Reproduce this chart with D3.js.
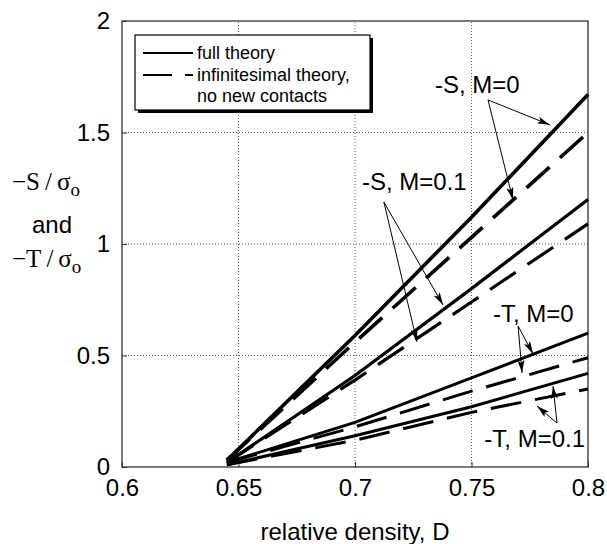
<!DOCTYPE html>
<html>
<head>
<meta charset="utf-8">
<script src="https://cdn.jsdelivr.net/npm/d3@7"></script>
<style>
  body { margin: 0; background: #fff; }
  text { font-family: "Liberation Sans", Arial, sans-serif; fill: #000; }
</style>
</head>
<body>
<div class="chart"></div>
<script>
// relative density where the curves are read
const density = [0.645, 0.7, 0.75, 0.8];

// -S/sigma_o and -T/sigma_o, full theory vs infinitesimal theory
const sFullM0 = [0.03, 0.59, 1.12, 1.67];
const sInfM0 = [0.03, 0.56, 1.03, 1.50];
const sFullM01 = [0.02, 0.41, 0.80, 1.20];
const sInfM01 = [0.02, 0.39, 0.74, 1.09];
const tFullM0 = [0.02, 0.20, 0.40, 0.60];
const tInfM0 = [0.02, 0.18, 0.34, 0.49];
const tFullM01 = [0.01, 0.14, 0.27, 0.42];
const tInfM01 = [0.01, 0.12, 0.245, 0.35];

const xTicks = [0.6, 0.65, 0.7, 0.75, 0.8];
const yTicks = [0, 0.5, 1, 1.5, 2];
const xTickLabels = ["0.6", "0.65", "0.7", "0.75", "0.8"];
const yTickLabels = ["0", "0.5", "1", "1.5", "2"];

const legendLabels = ["full theory", "infinitesimal theory,", "no new contacts"];

// annotation labels: text position, arrow origin, arrow tips (data units)
const noteText = ["-S, M=0", "-S, M=0.1", "-T, M=0", "-T, M=0.1"];
const noteAt = [[0.7343, 1.677], [0.703, 1.242], [0.7592, 0.650], [0.7555, 0.0897]];
const noteFrom = [[0.7571, 1.646], [0.7124, 1.188], [0.770, 0.632], [0.7867, 0.197]];
const noteTips = [
  [[0.7837, 1.534], [0.7678, 1.197]],
  [[0.7378, 0.726], [0.7266, 0.561]],
  [[0.7764, 0.507], [0.7717, 0.4215]],
  [[0.785, 0.363], [0.7781, 0.2735]]
];

const series = [
  { v: sFullM0, dash: false, w: 3.6 },
  { v: sInfM0, dash: true, w: 3.6 },
  { v: sFullM01, dash: false, w: 3.2 },
  { v: sInfM01, dash: true, w: 3.2 },
  { v: tFullM0, dash: false, w: 3 },
  { v: tInfM0, dash: true, w: 3 },
  { v: tFullM01, dash: false, w: 3 },
  { v: tInfM01, dash: true, w: 3 }
];

const width = 607, height = 544;
const x = d3.scaleLinear().domain([0.6, 0.8]).range([122, 588]);
const y = d3.scaleLinear().domain([0, 2]).range([467, 21]);

const svg = d3.select(".chart").append("svg")
  .attr("width", width).attr("height", height);

const defs = svg.append("defs");
defs.append("marker")
  .attr("id", "arrow")
  .attr("viewBox", "0 0 13 7")
  .attr("refX", 13).attr("refY", 3.5)
  .attr("markerWidth", 13).attr("markerHeight", 7)
  .attr("markerUnits", "userSpaceOnUse")
  .attr("orient", "auto")
  .append("path")
  .attr("d", "M0,0 L13,3.5 L0,7 L3,3.5 Z")
  .attr("fill", "#000");

// grid lines
const grid = svg.append("g");
grid.selectAll(".gx").data(xTicks.slice(1, -1)).enter().append("line")
  .attr("x1", d => x(d)).attr("x2", d => x(d))
  .attr("y1", y(0)).attr("y2", y(2))
  .attr("stroke", "#444").attr("stroke-width", 0.9)
  .attr("stroke-dasharray", "1,2");
grid.selectAll(".gy").data(yTicks.slice(1, -1)).enter().append("line")
  .attr("x1", x(0.6)).attr("x2", x(0.8))
  .attr("y1", d => y(d)).attr("y2", d => y(d))
  .attr("stroke", "#444").attr("stroke-width", 0.9)
  .attr("stroke-dasharray", "1,2");

// axes
const xAxis = svg.append("g")
  .attr("transform", "translate(0," + y(0) + ")")
  .call(d3.axisBottom(x).tickValues(xTicks)
    .tickFormat((d, i) => xTickLabels[i])
    .tickSizeInner(-5).tickSizeOuter(0).tickPadding(12));
const yAxis = svg.append("g")
  .attr("transform", "translate(" + x(0.6) + ",0)")
  .call(d3.axisLeft(y).tickValues(yTicks)
    .tickFormat((d, i) => yTickLabels[i])
    .tickSizeInner(-5).tickSizeOuter(0).tickPadding(12));
[xAxis, yAxis].forEach(a => {
  a.select(".domain").remove();
  a.selectAll("text").style("font-size", "24px")
    .style("font-family", "'Liberation Sans', Arial, sans-serif");
  a.selectAll(".tick line").attr("stroke", "#333");
});

svg.append("rect")
  .attr("x", x(0.6)).attr("y", y(2))
  .attr("width", x(0.8) - x(0.6)).attr("height", y(0) - y(2))
  .attr("fill", "none").attr("stroke", "#333").attr("stroke-width", 1.3);

// curves
const line = d3.line()
  .x((d, i) => x(density[i]))
  .y(d => y(d));

svg.append("g").selectAll("path").data(series).enter().append("path")
  .attr("d", d => line(d.v))
  .attr("fill", "none")
  .attr("stroke", "#000")
  .attr("stroke-width", d => d.w)
  .attr("stroke-dasharray", d => d.dash ? "31,14" : null);

// annotations
const notes = svg.append("g");
noteText.forEach((t, i) => {
  notes.append("text")
    .attr("x", x(noteAt[i][0])).attr("y", y(noteAt[i][1]))
    .style("font-size", "24px")
    .text(t);
  noteTips[i].forEach(tip => {
    notes.append("line")
      .attr("x1", x(noteFrom[i][0])).attr("y1", y(noteFrom[i][1]))
      .attr("x2", x(tip[0])).attr("y2", y(tip[1]))
      .attr("stroke", "#000").attr("stroke-width", 1)
      .attr("marker-end", "url(#arrow)");
  });
});

// legend
const lg = svg.append("g");
lg.append("rect").attr("x", 138).attr("y", 38).attr("width", 235).attr("height", 75)
  .attr("fill", "#000");
lg.append("rect").attr("x", 135).attr("y", 35).attr("width", 235).attr("height", 75)
  .attr("fill", "#fff").attr("stroke", "#000").attr("stroke-width", 1.2);
lg.append("line").attr("x1", 143).attr("x2", 193).attr("y1", 53).attr("y2", 53)
  .attr("stroke", "#000").attr("stroke-width", 2);
lg.append("line").attr("x1", 143).attr("x2", 193).attr("y1", 75).attr("y2", 75)
  .attr("stroke", "#000").attr("stroke-width", 2).attr("stroke-dasharray", "29,13");
lg.selectAll(".lt").data(legendLabels).enter().append("text")
  .attr("x", 197)
  .attr("y", (d, i) => [59, 81, 102][i])
  .style("font-size", "18px")
  .text(d => d);

// y axis title
const serif = "'Liberation Serif', 'Times New Roman', serif";
function sigmaLabel(letter, yy) {
  const t = svg.append("text").attr("x", 12).attr("y", yy)
    .style("font-family", serif).style("font-size", "25px");
  t.append("tspan").text("\u2212" + letter + "\u2009/\u2009\u03c3");
  t.append("tspan").attr("dy", 6).style("font-size", "19px").text("o");
}
sigmaLabel("S", 190);
svg.append("text").attr("x", 52).attr("y", 233)
  .attr("text-anchor", "middle").style("font-size", "24px").text("and");
sigmaLabel("T", 267);

// x axis title
svg.append("text")
  .attr("x", (x(0.6) + x(0.8)) / 2).attr("y", 540)
  .attr("text-anchor", "middle").style("font-size", "24px")
  .text("relative density, D");
</script>
</body>
</html>
